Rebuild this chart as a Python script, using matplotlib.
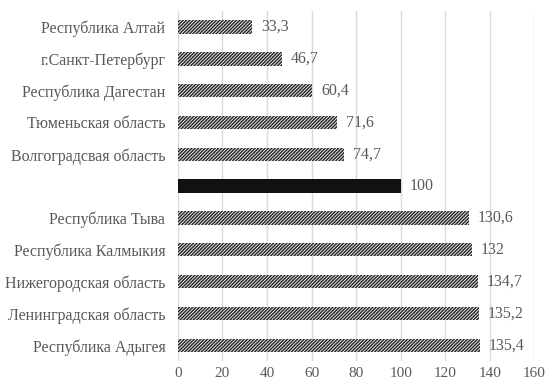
import matplotlib
matplotlib.use('Agg')
import matplotlib.pyplot as plt

regions = ['Республика Алтай', 'г.Санкт-Петербург', 'Республика Дагестан',
           'Тюменьская область', 'Волгоградсвая область', '',
           'Республика Тыва', 'Республика Калмыкия', 'Нижегородская область',
           'Ленинградская область', 'Республика Адыгея']
values = [33.3, 46.7, 60.4, 71.6, 74.7, 100, 130.6, 132, 134.7, 135.2, 135.4]
labels = ['33,3', '46,7', '60,4', '71,6', '74,7', '100', '130,6', '132', '134,7', '135,2', '135,4']
xticks = [0, 20, 40, 60, 80, 100, 120, 140, 160]

plt.rcParams['font.family'] = ['Liberation Serif', 'DejaVu Serif']
plt.rcParams['hatch.linewidth'] = 1.1

fig = plt.figure(figsize=(5.47, 3.83), dpi=100)
ax = fig.add_axes([0.325, 0.057, 0.652, 0.914])

txt = '#595959'
ypos = list(range(len(values)))
for y, v, lab in zip(ypos, values, labels):
    if v == 100:
        ax.barh(y, v, height=0.42, color='#111111', edgecolor='#111111', linewidth=0)
    else:
        ax.barh(y, v, height=0.42, color='white', edgecolor='#2a2a2a',
                hatch='//////////', linewidth=0)
    ax.text(v + 4, y, lab, va='center', ha='left', fontsize=11.5, color=txt)

ax.set_yticks(ypos)
ax.set_yticklabels(regions, fontsize=11.5, color=txt)
ax.set_ylim(len(values) - 0.5, -0.5)
ax.set_xlim(0, 160)
ax.set_xticks(xticks)
ax.set_xticklabels([str(t) for t in xticks], fontsize=11, color=txt)
ax.tick_params(axis='y', length=0, pad=9)
ax.tick_params(axis='x', length=0, pad=4)
ax.xaxis.grid(True, color='#d9d9d9', linewidth=1)
ax.set_axisbelow(True)
for s in ax.spines.values():
    s.set_visible(False)

fig.savefig('out.png', dpi=100)
